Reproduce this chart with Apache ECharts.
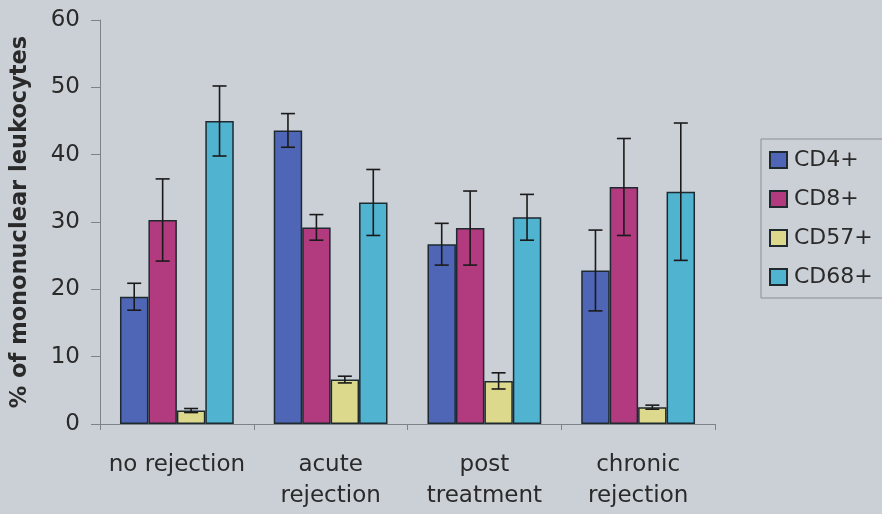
<!DOCTYPE html>
<html><head><meta charset="utf-8">
<script src="https://cdn.jsdelivr.net/npm/echarts@6/dist/echarts.min.js"></script>
<style>html,body{margin:0;padding:0;background:#cbd0d6;}#c{width:882px;height:514px;}</style>
</head><body><div id="c"></div>
<script>
var categories = ['no rejection', 'acute\nrejection', 'post\ntreatment', 'chronic\nrejection'];
var seriesNames = ['CD4+', 'CD8+', 'CD57+', 'CD68+'];
var cd4 = [18.9, 43.6, 26.7, 22.8];
var cd4Err = [2.0, 2.5, 3.1, 6.0];
var cd8 = [30.3, 29.2, 29.1, 35.2];
var cd8Err = [6.1, 1.9, 5.5, 7.2];
var cd57 = [2.0, 6.6, 6.4, 2.5];
var cd57Err = [0.3, 0.5, 1.2, 0.3];
var cd68 = [45.0, 32.9, 30.7, 34.5];
var cd68Err = [5.2, 4.9, 3.4, 10.2];
var yTicks = [0, 10, 20, 30, 40, 50, 60];

var colors = ['#4f66b6', '#b23a7e', '#dcd98c', '#50b3cf'];
var means = [cd4, cd8, cd57, cd68];
var errs = [cd4Err, cd8Err, cd57Err, cd68Err];
var gapRatio = 0.26;
var FONT = 'DejaVu Sans';

var chart = echarts.init(document.getElementById('c'));
var series = [];
means.forEach(function (m, i) {
  series.push({
    name: seriesNames[i], type: 'bar', data: m,
    barGap: '0%', barCategoryGap: (gapRatio * 100) + '%',
    itemStyle: { color: colors[i], borderColor: '#1e2a30', borderWidth: 1.5 },
    z: 2
  });
});
means.forEach(function (m, i) {
  var d = m.map(function (v, k) { return [k, v, errs[i][k]]; });
  series.push({
    type: 'custom', name: seriesNames[i] + ' err', data: d, z: 5,
    encode: { x: 0, y: 1 },
    renderItem: function (params, api) {
      var k = api.value(0), v = api.value(1), e = api.value(2);
      var band = api.size([1, 0])[0];
      var barW = band * (1 - gapRatio) / 4;
      var cx = api.coord([k, v])[0] + (i - 1.5) * barW;
      var top = api.coord([k, v + e])[1];
      var bot = api.coord([k, v - e])[1];
      var hw = 7;
      var st = { stroke: '#1a1a1a', lineWidth: 1.6 };
      return { type: 'group', children: [
        { type: 'line', shape: { x1: cx, y1: top, x2: cx, y2: bot }, style: st },
        { type: 'line', shape: { x1: cx - hw, y1: top, x2: cx + hw, y2: top }, style: st },
        { type: 'line', shape: { x1: cx - hw, y1: bot, x2: cx + hw, y2: bot }, style: st }
      ]};
    }
  });
});

chart.setOption({
  backgroundColor: '#cbd0d6',
  animation: false,
  grid: { left: 100, right: 167, top: 20, bottom: 90, containLabel: false, outerBoundsMode: 'none' },
  legend: {
    data: seriesNames, orient: 'vertical', left: 761, top: 139,
    padding: [10, 40, 10, 8],
    itemWidth: 17, itemHeight: 16, itemGap: 17,
    borderColor: '#8a8f95', borderWidth: 1,
    icon: 'rect',
    textStyle: { fontFamily: FONT, fontSize: 22, color: '#2a2a2a', padding: [0, 0, 0, 2] }
  },
  xAxis: {
    type: 'category', data: categories,
    axisLine: { lineStyle: { color: '#7d8288', width: 1 } },
    axisTick: { show: true, length: 6, lineStyle: { color: '#7d8288' } },
    axisLabel: { interval: 0, fontFamily: FONT, fontSize: 23, color: '#2a2a2a', margin: 26, lineHeight: 31 }
  },
  yAxis: {
    type: 'value', min: 0, max: 60, interval: 10,
    name: '% of mononuclear leukocytes', nameLocation: 'middle', nameGap: 68,
    nameTextStyle: { fontFamily: FONT, fontSize: 22.5, fontWeight: 'bold', color: '#2a2a2a', padding: [0, 0, 0, 0] },
    axisLine: { show: true, lineStyle: { color: '#7d8288', width: 1 } },
    axisTick: { show: true, length: 9, lineStyle: { color: '#7d8288' } },
    splitLine: { show: false },
    axisLabel: { fontFamily: FONT, fontSize: 23, color: '#2a2a2a', margin: 20,
      formatter: function (v) { return yTicks.indexOf(v) >= 0 ? String(v) : ''; } }
  },
  series: series
});
</script></body></html>
